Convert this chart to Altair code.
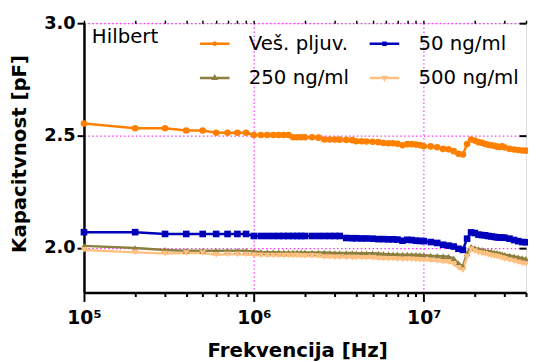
import altair as alt
import pandas as pd

# ---- data ----
SERIES = ["Veš. pljuv.", "50 ng/ml", "250 ng/ml", "500 ng/ml"]
COLORS = ["#FF8000", "#0000BB", "#8C7F3F", "#FFC080"]
SHAPES = ["circle", "square", "triangle-up", "triangle-down"]

FREQ_MHZ = [0.1, 0.2, 0.3, 0.4, 0.5, 0.6, 0.7, 0.8, 0.9,
            1.0, 1.1, 1.2, 1.3, 1.4, 1.5, 1.6, 1.7, 1.8, 1.9, 2.0,
            2.2, 2.4, 2.6, 2.8, 3.0, 3.2, 3.5, 3.8,
            4.0, 4.3, 4.6, 5.0, 5.4, 5.8, 6.2, 6.6, 7.0,
            7.5, 8.0, 8.5, 9.0, 9.5,
            10, 11, 12, 13, 14, 15, 16, 17, 18, 19, 20, 21, 22, 23, 24, 25,
            26, 27, 28, 29, 30, 32, 34, 36, 38, 40]

VES = [2.553, 2.532, 2.532, 2.522, 2.522, 2.512, 2.512, 2.512, 2.512,
       2.502, 2.502, 2.502, 2.502, 2.502, 2.502, 2.502, 2.492, 2.492, 2.492, 2.492,
       2.492, 2.490, 2.482, 2.482, 2.482, 2.481, 2.480, 2.479,
       2.474, 2.474, 2.473, 2.472, 2.470, 2.466, 2.465, 2.465, 2.463,
       2.456, 2.461, 2.461, 2.459, 2.457,
       2.452, 2.451, 2.447, 2.440, 2.438, 2.430, 2.418, 2.415, 2.462, 2.482, 2.477, 2.470, 2.467, 2.462, 2.458, 2.456,
       2.454, 2.450, 2.448, 2.452, 2.446, 2.440, 2.437, 2.435, 2.433, 2.432]

C50 = [2.069, 2.069, 2.061, 2.061, 2.061, 2.061, 2.061, 2.061, 2.061,
       2.052, 2.052, 2.052, 2.052, 2.052, 2.052, 2.052, 2.052, 2.052, 2.052, 2.052,
       2.052, 2.052, 2.052, 2.052, 2.052, 2.052, 2.043, 2.042,
       2.042, 2.041, 2.041, 2.040, 2.038, 2.038, 2.037, 2.037, 2.036,
       2.031, 2.035, 2.034, 2.031, 2.030,
       2.029, 2.025, 2.021, 2.013, 2.009, 2.005, 1.995, 1.990, 2.040, 2.068, 2.065, 2.058, 2.056, 2.055, 2.052, 2.050,
       2.048, 2.046, 2.045, 2.045, 2.044, 2.040, 2.034, 2.029, 2.025, 2.024]

C250 = [2.008, 1.998, 1.990, 1.986, 1.986, 1.986, 1.986, 1.986, 1.986,
        1.983, 1.981, 1.980, 1.980, 1.980, 1.979, 1.979, 1.979, 1.979, 1.979, 1.979,
        1.978, 1.978, 1.978, 1.977, 1.976, 1.976, 1.976, 1.976,
        1.975, 1.975, 1.975, 1.975, 1.974, 1.972, 1.971, 1.970, 1.970,
        1.969, 1.969, 1.968, 1.968, 1.967,
        1.966, 1.964, 1.963, 1.962, 1.960, 1.952, 1.930, 1.917, 1.975, 2.003, 1.998, 1.993, 1.990, 1.986, 1.984, 1.982,
        1.979, 1.977, 1.974, 1.971, 1.968, 1.965, 1.961, 1.957, 1.953, 1.950]

C500 = [1.990, 1.979, 1.974, 1.976, 1.976, 1.968, 1.970, 1.970, 1.969,
        1.967, 1.966, 1.965, 1.965, 1.965, 1.964, 1.964, 1.964, 1.964, 1.963, 1.963,
        1.963, 1.962, 1.958, 1.958, 1.957, 1.957, 1.956, 1.956,
        1.956, 1.955, 1.955, 1.954, 1.952, 1.951, 1.950, 1.950, 1.949,
        1.948, 1.949, 1.948, 1.947, 1.946,
        1.945, 1.943, 1.940, 1.937, 1.935, 1.928, 1.910, 1.900, 1.960, 1.992, 1.985, 1.978, 1.975, 1.972, 1.968, 1.964,
        1.962, 1.960, 1.957, 1.953, 1.950, 1.945, 1.940, 1.935, 1.930, 1.927]

X_TICKS = [1e5, 2e5, 3e5, 4e5, 5e5, 6e5, 7e5, 8e5, 9e5,
           1e6, 2e6, 3e6, 4e6, 5e6, 6e6, 7e6, 8e6, 9e6,
           1e7, 2e7, 3e7, 4e7]
Y_TICKS = [2.0, 2.5, 3.0]

rows = []
for name, vals in zip(SERIES, [VES, C50, C250, C500]):
    for f, v in zip(FREQ_MHZ, vals):
        rows.append({"freq": f * 1e6, "cap": v, "series": name})
df = pd.DataFrame(rows)

FONT = "DejaVu Sans"
MAJOR = "datum.value == 100000 || datum.value == 1000000 || datum.value == 10000000"
GRID = "datum.value == 1000000 || datum.value == 10000000"

xscale = alt.Scale(type="log", domain=[1e5, 4e7], nice=False)
yscale = alt.Scale(domain=[1.8, 3.0], nice=False, zero=False)

x_bottom = alt.Axis(
    values=X_TICKS,
    labelExpr="datum.value == 100000 ? '10⁵' : datum.value == 1000000 ? '10⁶' : datum.value == 10000000 ? '10⁷' : ''",
    labelOverlap=False, labelFlush=False, labelBound=False,
    labelFont=FONT, labelFontSize=19, labelFontWeight="bold", labelColor="black",
    labelBaseline="alphabetic", labelPadding=22,
    tickSize={"condition": {"test": MAJOR, "value": 9}, "value": 4},
    tickWidth=2, tickColor="black",
    domainColor="black", domainWidth=2.5,
    grid=True, gridColor="#FF33FF", gridDash=[1.5, 2.5], gridWidth=1.2,
    gridOpacity={"condition": {"test": GRID, "value": 1}, "value": 0},
    title="Frekvencija [Hz]", titleFont=FONT, titleFontSize=20, titleFontWeight="bold",
    titleColor="black", titleX=216, titleY=65, titleBaseline="alphabetic", titleAlign="center",
)
y_left = alt.Axis(
    values=Y_TICKS, format=".1f",
    labelFont=FONT, labelFontSize=18, labelFontWeight="bold", labelColor="black", labelPadding=2,
    tickSize=7, tickWidth=2, tickColor="black",
    domainColor="black", domainWidth=2.5,
    grid=True, gridColor="#FF33FF", gridDash=[1.5, 2.5], gridWidth=1.2,
    title="Kapacitvnost [pF]", titleFont=FONT, titleFontSize=20, titleFontWeight="bold",
    titleColor="black", titleAngle=270, titleX=-59, titleY=132, titleBaseline="alphabetic",
    titleAlign="center",
)
x_top = alt.Axis(orient="top", values=X_TICKS, labels=False, title=None, domain=False, grid=False,
                 tickSize=3, tickWidth=1.5, tickColor="black")
y_right = alt.Axis(orient="right", values=Y_TICKS, labels=False, title=None, domain=False, grid=False,
                   tickSize=7, tickWidth=2, tickColor="black", offset=-7)

# legend symbols: a line with a small marker in the middle (unit square -1..1)
LINE = "M-1,0H1"
LEGEND_PATHS = [
    LINE + "M-0.08,0A0.08,0.08 0 1,0 0.08,0A0.08,0.08 0 1,0 -0.08,0Z",
    LINE + "M-0.07,-0.07H0.07V0.07H-0.07Z",
    LINE + "M0,-0.1L0.09,0.06L-0.09,0.06Z",
    LINE + "M0,0.1L0.09,-0.06L-0.09,-0.06Z",
]

legend = alt.Legend(
    title="Hilbert", orient="none", legendX=8, legendY=4, columns=2, direction="horizontal",
    titleOrient="left", titleAnchor="start", titleBaseline="top", titlePadding=40,
    titleFont=FONT, titleFontSize=20, titleFontWeight="normal", titleColor="black",
    labelFont=FONT, labelFontSize=20, labelColor="black", labelOffset=18, labelLimit=300,
    symbolSize=900, symbolStrokeWidth=2.5, symbolOpacity=1,
    columnPadding=15, rowPadding=8, padding=0,
)

color_scale = alt.Scale(domain=SERIES, range=COLORS)

lines = alt.Chart(df).mark_line(strokeWidth=2.5).encode(
    x=alt.X("freq:Q", scale=xscale, axis=x_bottom),
    y=alt.Y("cap:Q", scale=yscale, axis=y_left),
    color=alt.Color("series:N", scale=color_scale, legend=legend),
    order=alt.Order("freq:Q"),
)

point_layers = []
for i, (name, shp) in enumerate(zip(SERIES, SHAPES)):
    enc = dict(
        x=alt.X("freq:Q", scale=xscale, axis=x_top if i == 0 else None),
        y=alt.Y("cap:Q", scale=yscale, axis=y_right if i == 0 else None),
        fill=alt.Fill("series:N", scale=color_scale, legend=None),
    )
    point_layers.append(
        alt.Chart(df).transform_filter(alt.datum.series == name)
        .mark_point(filled=True, size=45, opacity=1, strokeWidth=0, shape=shp)
        .encode(**enc)
    )

legend_layer = alt.Chart(df).mark_point(filled=False, opacity=0).encode(
    x=alt.X("freq:Q", scale=xscale, axis=None),
    y=alt.Y("cap:Q", scale=yscale, axis=None),
    color=alt.Color("series:N", scale=color_scale, legend=legend),
    shape=alt.Shape("series:N", scale=alt.Scale(domain=SERIES, range=LEGEND_PATHS), legend=legend),
)

chart = alt.layer(lines, *point_layers, legend_layer).resolve_axis(
    x="independent", y="independent"
).properties(
    width=448, height=273,
    padding={"left": 77, "top": 13, "right": 2, "bottom": 68},
    autosize=alt.AutoSizeParams(type="none"),
).configure_view(stroke="black", strokeWidth=2.5).configure(background="white")

chart.save("out.html", embed_options={"renderer": "svg", "actions": False})
